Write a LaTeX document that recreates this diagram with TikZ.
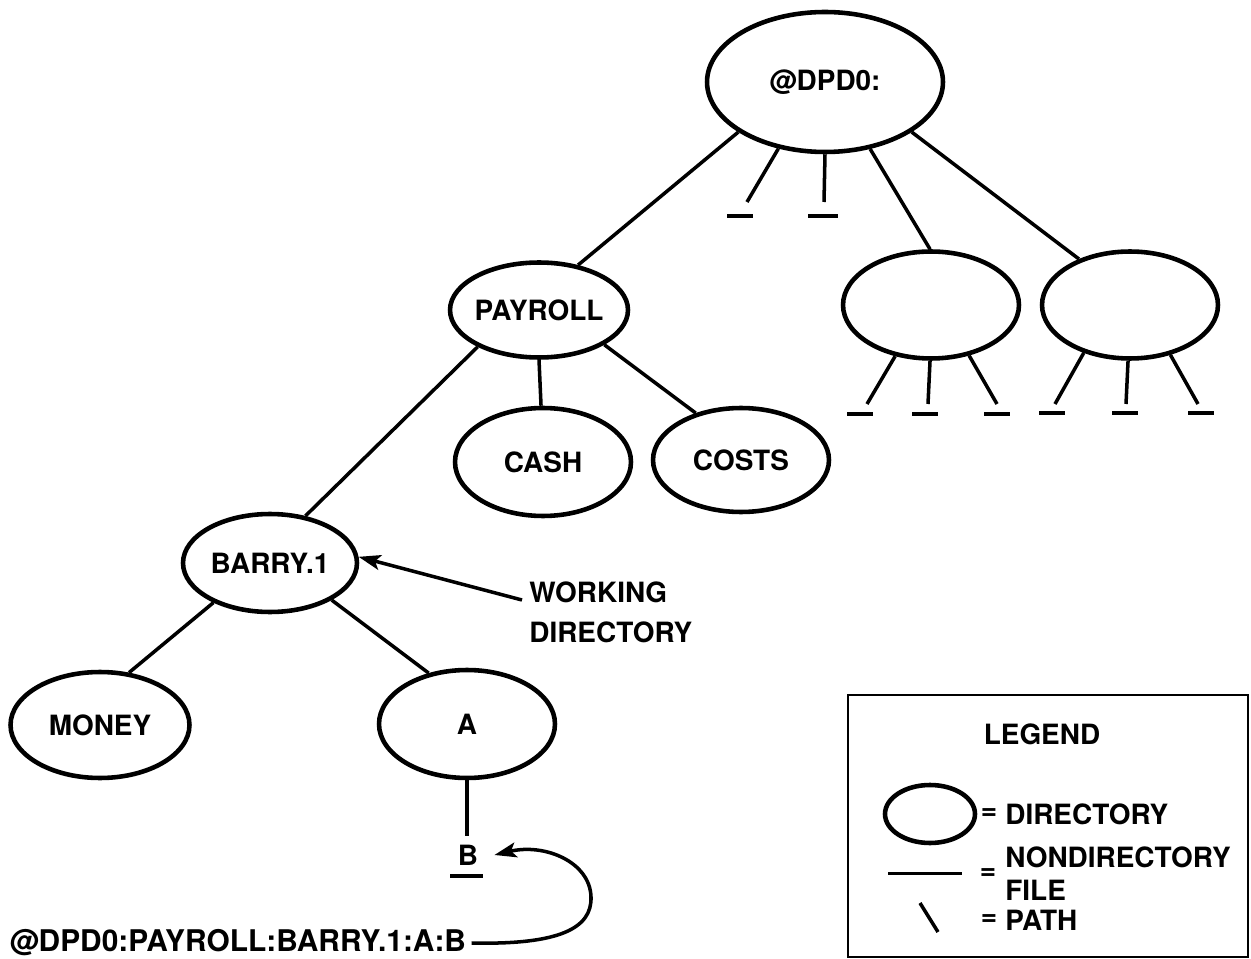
\documentclass[tikz,border=0pt]{standalone}
\usepackage{fontspec}
\setmainfont{TeX Gyre Heros}
\usetikzlibrary{shapes.geometric,arrows.meta}
\begin{document}
\begin{tikzpicture}[x=0.02cm,y=-0.02cm,
  font=\fontsize{15.9}{19}\selectfont\bfseries,
  dir/.style={ellipse, draw, line width=2.6pt, inner sep=0pt},
  link/.style={line width=2pt},
  file/.style={rectangle, fill=black, inner sep=0pt, minimum height=0.07cm, minimum width=0.52cm},
  pointer/.style={line width=2pt, -{Stealth[length=0.44cm,width=0.3cm,inset=0.1cm]}},
  txt/.style={inner sep=0pt}]
\useasboundingbox (0,0) rectangle (1251,959);

% directories
\node[dir, minimum width=4.72cm, minimum height=2.8cm, label=center:@DPD0:] (root) at (825,82) {};
\node[dir, minimum width=3.56cm, minimum height=1.9cm, label=center:PAYROLL] (payroll) at (539,310) {};
\node[dir, minimum width=3.52cm, minimum height=2.16cm, label=center:CASH] (cash) at (543,462) {};
\node[dir, minimum width=3.52cm, minimum height=2.08cm, label=center:COSTS] (costs) at (741,460) {};
\node[dir, minimum width=3.52cm, minimum height=2.14cm] (d1) at (931,305) {};
\node[dir, minimum width=3.52cm, minimum height=2.14cm] (d2) at (1130,305) {};
\node[dir, minimum width=3.48cm, minimum height=1.96cm, label=center:BARRY.1] (barry) at (270,563) {};
\node[dir, minimum width=3.58cm, minimum height=2.12cm, label=center:MONEY] (money) at (100,725) {};
\node[dir, minimum width=3.52cm, minimum height=2.16cm, label=center:A] (a) at (467,724) {};

% nondirectory files
\node[file] (f1) at (740,216) {};
\node[file, minimum width=0.6cm] (f2) at (823,216) {};
\node[file] (f3) at (860,414) {};
\node[file] (f4) at (925,414) {};
\node[file] (f5) at (997,414) {};
\node[file] (f6) at (1052,413) {};
\node[file] (f7) at (1125,413) {};
\node[file] (f8) at (1201,413) {};
\node[txt] (bname) at (468,855) {B};
\node[file, minimum width=0.66cm] (fb) at (466,876) {};

% ends of the paths to the files
\coordinate (p1) at (747,202);
\coordinate (p2) at (824,202);
\coordinate (p3) at (867,404);
\coordinate (p4) at (928,404);
\coordinate (p5) at (997,404);
\coordinate (p6) at (1055,404);
\coordinate (p7) at (1126,404);
\coordinate (p8) at (1198,404);
\coordinate (pb) at (467,836);

% paths
\draw[link] (root.-150) -- (payroll.49);
\draw[link] (root.-125) -- (p1);
\draw[link] (root.-90) -- (p2);
\draw[link] (root.-56) -- (d1.91);
\draw[link] (root.-30) -- (d2.138);
\draw[link] (d1.-125) -- (p3);
\draw[link] (d1.-91) -- (p4);
\draw[link] (d1.-53) -- (p5);
\draw[link] (d2.-134) -- (p6);
\draw[link] (d2.-92) -- (p7);
\draw[link] (d2.-51) -- (p8);
\draw[link] (payroll.-149) -- (barry.53);
\draw[link] (payroll.-90) -- (cash.92);
\draw[link] (payroll.-28) -- (costs.134);
\draw[link] (barry.-145) -- (money.61);
\draw[link] (barry.-31) -- (a.127);
\draw[link] (a.-90) -- (pb);

% working directory pointer
\node[txt, anchor=west, align=left, font=\fontsize{15.9}{22.7}\selectfont\bfseries] (wd) at (529,612) {WORKING\\DIRECTORY};
\coordinate (wdtail) at (522,600);
\draw[pointer] (wdtail) -- (barry.4);

% full pathname pointer
\node[inner sep=3pt, anchor=west, font=\fontsize{17}{20}\selectfont\bfseries] (fullname) at (4,943) {@DPD0:PAYROLL:BARRY.1:A:B};
\draw[pointer] (fullname.east) .. controls (560,945) and (592,928) .. (591,897)
  .. controls (590,862) and (545,843) .. ([xshift=0.32cm]bname.east);

% legend
\node[draw, line width=1.4pt, rectangle, inner sep=0pt, minimum width=8cm, minimum height=5.24cm] (legend) at (1048,826) {};
\node[txt] (legendtitle) at (1042,734) {LEGEND};
\node[dir, minimum width=1.8cm, minimum height=1.16cm] (ldir) at (930,814) {};
\node[txt] (eq1) at (989,814) {=};
\node[txt, anchor=west] (ldirtext) at (1005,814) {DIRECTORY};
\node[file, minimum width=1.48cm, minimum height=0.06cm] (lfile) at (925,873) {};
\node[txt] (eq2) at (988,874) {=};
\node[txt, anchor=west, align=left, font=\fontsize{15.9}{18.7}\selectfont\bfseries] (lfiletext) at (1005,874) {NONDIRECTORY\\FILE};
\coordinate (lpa) at (920,903);
\coordinate (lpb) at (938,932);
\draw[link] (lpa) -- (lpb);
\node[txt] (eq3) at (989,920) {=};
\node[txt, anchor=west] (lpathtext) at (1005,920) {PATH};
\end{tikzpicture}
\end{document}
